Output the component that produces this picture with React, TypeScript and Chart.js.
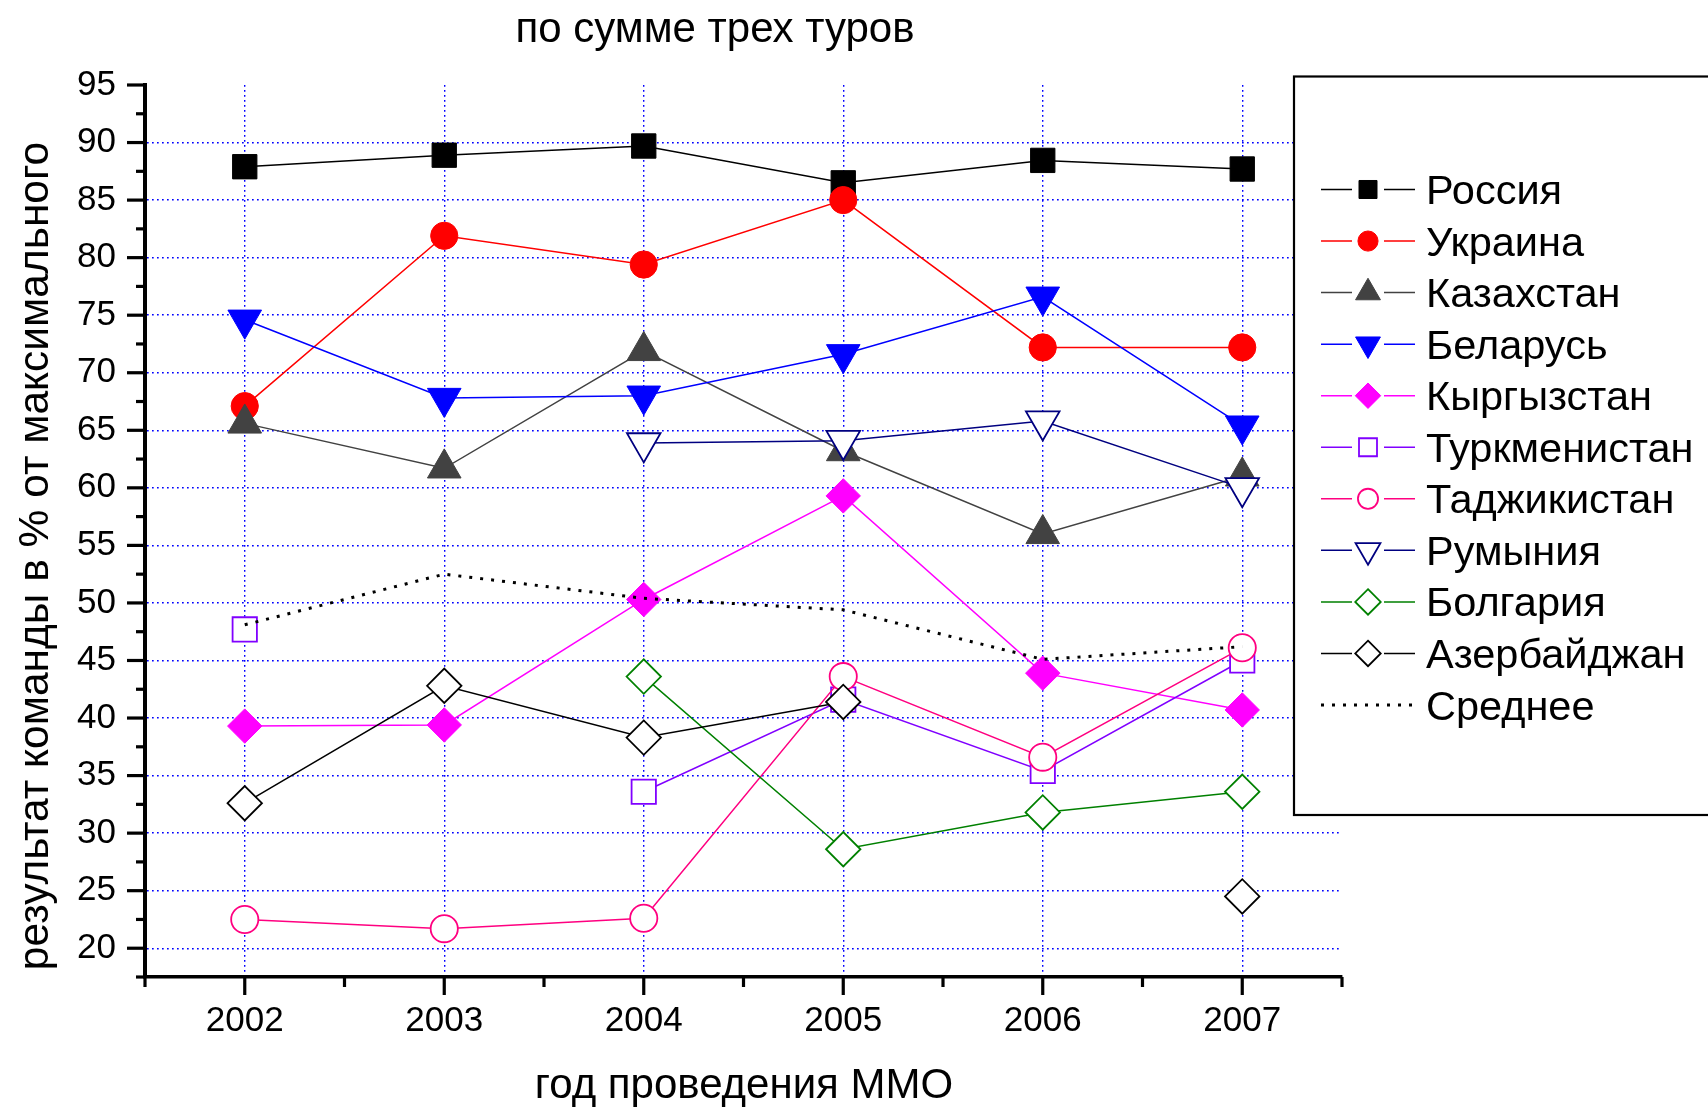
import React, { useEffect, useRef } from 'react';
import { Chart, registerables } from 'chart.js';

Chart.register(...registerables);

// ---- data ----
const YEARS = ['2002', '2003', '2004', '2005', '2006', '2007'];

const RUSSIA = [87.9, 88.9, 89.7, 86.5, 88.45, 87.7];
const UKRAINE = [67.1, 81.9, 79.4, 85.0, 72.2, 72.2];
const KAZAKHSTAN = [65.6, 61.7, 71.9, 63.2, 56.0, 61.0];
const BELARUS = [74.6, 67.8, 68.0, 71.6, 76.6, 65.4];
const KYRGYZSTAN = [39.3, 39.4, 50.3, 59.3, 43.9, 40.7];
const TURKMENISTAN = [47.7, null, 33.6, 41.6, 35.4, 45.0];
const TAJIKISTAN = [22.5, 21.7, 22.6, 43.6, 36.6, 46.1];
const ROMANIA = [null, null, 63.9, 64.1, 65.8, 60.0];
const BULGARIA = [null, null, 43.6, 28.6, 31.8, 33.6];
const AZERBAIJAN = [32.6, 42.8, 38.3, 41.4, null, 24.5];
const AVERAGE = [48.1, 52.5, 50.4, 49.4, 45.1, 46.2];

const Y_MIN = 17.5;
const Y_MAX = 95;
const Y_STEP = 5;
const Y_MINOR = 2.5;

const TITLE = 'по сумме трех туров';
const X_TITLE = 'год проведения ММО';
const Y_TITLE = 'результат команды в % от максимального';

const FONT = '"Liberation Sans", Arial, Helvetica, sans-serif';

type Marker = 'rect' | 'circle' | 'triangle' | 'triangleDown' | 'rectRot' | 'none';

interface SeriesDef {
  label: string;
  data: (number | null)[];
  color: string;
  marker: Marker;
  filled: boolean;
  dotted?: boolean;
}

const SERIES: SeriesDef[] = [
  { label: 'Россия', data: RUSSIA, color: '#000000', marker: 'rect', filled: true },
  { label: 'Украина', data: UKRAINE, color: '#ff0000', marker: 'circle', filled: true },
  { label: 'Казахстан', data: KAZAKHSTAN, color: '#424242', marker: 'triangle', filled: true },
  { label: 'Беларусь', data: BELARUS, color: '#0000ff', marker: 'triangleDown', filled: true },
  { label: 'Кыргызстан', data: KYRGYZSTAN, color: '#ff00ff', marker: 'rectRot', filled: true },
  { label: 'Туркменистан', data: TURKMENISTAN, color: '#8000ff', marker: 'rect', filled: false },
  { label: 'Таджикистан', data: TAJIKISTAN, color: '#ff0080', marker: 'circle', filled: false },
  { label: 'Румыния', data: ROMANIA, color: '#000080', marker: 'triangleDown', filled: false },
  { label: 'Болгария', data: BULGARIA, color: '#008000', marker: 'rectRot', filled: false },
  { label: 'Азербайджан', data: AZERBAIJAN, color: '#000000', marker: 'rectRot', filled: false },
  { label: 'Среднее', data: AVERAGE, color: '#000000', marker: 'none', filled: false, dotted: true },
];

// marker radii in the plot (Chart.js point radius semantics)
const RADIUS: Record<Marker, number> = {
  rect: 17.2,
  circle: 13.6,
  triangle: 19.4,
  triangleDown: 19.4,
  rectRot: 17.2,
  none: 0,
};

const LEGEND_SCALE = 0.74;

// canvas / plot geometry
const W = 1708;
const H = 1107;
const AREA = { left: 145, right: 1342, top: 85, bottom: 977 };

function shapePath(ctx: CanvasRenderingContext2D, marker: Marker, x: number, y: number, r: number) {
  ctx.beginPath();
  if (marker === 'rect') {
    const s = Math.SQRT1_2 * r;
    ctx.rect(x - s, y - s, 2 * s, 2 * s);
  } else if (marker === 'circle') {
    ctx.arc(x, y, r, 0, Math.PI * 2);
  } else if (marker === 'triangle' || marker === 'triangleDown') {
    const sgn = marker === 'triangle' ? 1 : -1;
    const hw = (r * Math.sqrt(3)) / 2;
    ctx.moveTo(x, y - sgn * r);
    ctx.lineTo(x + hw, y + (sgn * r) / 2);
    ctx.lineTo(x - hw, y + (sgn * r) / 2);
  } else if (marker === 'rectRot') {
    ctx.moveTo(x, y - r);
    ctx.lineTo(x + r, y);
    ctx.lineTo(x, y + r);
    ctx.lineTo(x - r, y);
  }
  ctx.closePath();
}

const decorPlugin = {
  id: 'decor',
  afterDraw(chart: any) {
    const ctx: CanvasRenderingContext2D = chart.ctx;
    const xs = chart.scales.x;
    const ys = chart.scales.y;
    const area = chart.chartArea;
    ctx.save();

    // axis tick marks (major + minor)
    ctx.strokeStyle = '#000';
    ctx.lineWidth = 3.2;
    ctx.lineCap = 'butt';
    for (let i = 0; i <= YEARS.length * 2; i++) {
      const v = -0.5 + i * 0.5;
      const px = xs.getPixelForValue(v);
      const major = i % 2 === 1;
      ctx.beginPath();
      ctx.moveTo(px, area.bottom);
      ctx.lineTo(px, area.bottom + (major ? 18 : 10));
      ctx.stroke();
    }
    for (let v = Y_MIN; v <= Y_MAX + 1e-6; v += Y_MINOR) {
      const py = ys.getPixelForValue(v);
      const major = Math.abs(v % Y_STEP) < 1e-6;
      ctx.beginPath();
      ctx.moveTo(area.left - (major ? 18 : 9), py);
      ctx.lineTo(area.left, py);
      ctx.stroke();
    }

    // titles
    ctx.fillStyle = '#000';
    ctx.textBaseline = 'alphabetic';
    ctx.textAlign = 'center';
    ctx.font = `42px ${FONT}`;
    ctx.fillText(TITLE, 715, 42);
    ctx.fillText(X_TITLE, 744, 1098);
    ctx.save();
    ctx.translate(48, 556);
    ctx.rotate(-Math.PI / 2);
    ctx.font = `42.5px ${FONT}`;
    ctx.fillText(Y_TITLE, 0, 0);
    ctx.restore();

    // legend box
    const box = { left: 1294, top: 76.5, right: W + 10, bottom: 815 };
    ctx.fillStyle = '#fff';
    ctx.fillRect(box.left, box.top, box.right - box.left, box.bottom - box.top);
    ctx.strokeStyle = '#000';
    ctx.lineWidth = 2.2;
    ctx.strokeRect(box.left, box.top, box.right - box.left, box.bottom - box.top);

    const rowY0 = 189.5;
    const rowStep = 51.55;
    const mx = 1368;
    chart.data.datasets.forEach((ds: any, i: number) => {
      const def = SERIES[i];
      const cy = rowY0 + i * rowStep;
      ctx.strokeStyle = def.color;
      ctx.lineWidth = ds.borderWidth;
      if (def.dotted) {
        ctx.setLineDash(ds.borderDash);
        ctx.beginPath();
        ctx.moveTo(1321, cy);
        ctx.lineTo(1416, cy);
        ctx.stroke();
        ctx.setLineDash([]);
      } else {
        ctx.beginPath();
        ctx.moveTo(1321, cy);
        ctx.lineTo(1352, cy);
        ctx.moveTo(1384, cy);
        ctx.lineTo(1415, cy);
        ctx.stroke();
        const r = RADIUS[def.marker] * LEGEND_SCALE;
        shapePath(ctx, def.marker, mx, cy, r);
        ctx.fillStyle = def.filled ? def.color : '#fff';
        ctx.fill();
        ctx.lineWidth = def.filled ? 1 : 1.8;
        ctx.stroke();
      }
      ctx.fillStyle = '#000';
      ctx.textAlign = 'left';
      ctx.font = `41.5px ${FONT}`;
      ctx.fillText(def.label, 1426, cy + 14.5);
    });

    ctx.restore();
  },
};

export default function App() {
  const canvasRef = useRef<HTMLCanvasElement | null>(null);

  useEffect(() => {
    const canvas = canvasRef.current;
    if (!canvas) return;
    Chart.defaults.font.family = FONT;

    const n = SERIES.length;
    const datasets = SERIES.map((s, i) => ({
      label: s.label,
      data: s.data,
      borderColor: s.color,
      backgroundColor: s.filled ? s.color : '#ffffff',
      pointBackgroundColor: s.filled ? s.color : '#ffffff',
      pointBorderColor: s.color,
      pointStyle: s.marker === 'triangleDown' ? 'triangle' : s.marker === 'none' ? 'circle' : s.marker,
      pointRotation: s.marker === 'triangleDown' ? 180 : 0,
      pointRadius: RADIUS[s.marker],
      pointHoverRadius: RADIUS[s.marker],
      pointBorderWidth: s.filled ? 1 : 1.8,
      borderWidth: s.dotted ? 3 : 1.5,
      borderDash: s.dotted ? [3, 8] : [],
      spanGaps: false,
      tension: 0,
      fill: false,
      order: n - i,
    }));

    const chart = new Chart(canvas, {
      type: 'line',
      data: { labels: YEARS, datasets },
      plugins: [decorPlugin],
      options: {
        responsive: false,
        animation: false,
        events: [],
        layout: {
          padding: { left: 0, top: AREA.top, right: W - AREA.right, bottom: 0 },
        },
        plugins: {
          legend: { display: false },
          title: { display: false },
          tooltip: { enabled: false },
        },
        scales: {
          x: {
            type: 'category',
            offset: true,
            position: 'bottom',
            afterFit: (scale: any) => {
              scale.height = H - AREA.bottom;
            },
            grid: {
              display: true,
              offset: false,
              drawTicks: false,
              color: '#0000ff',
              lineWidth: 1.4,
            },
            border: { display: true, color: '#000', width: 3.4, dash: [1.7, 3.3] },
            ticks: {
              color: '#000',
              font: { size: 35, family: FONT },
              padding: 23,
              maxRotation: 0,
              autoSkip: false,
            },
          },
          y: {
            type: 'linear',
            min: Y_MIN,
            max: Y_MAX,
            afterFit: (scale: any) => {
              scale.width = AREA.left;
            },
            grid: {
              display: true,
              drawTicks: false,
              color: (c: any) =>
                c.tick && (c.tick.value >= Y_MAX - 1e-6 || c.tick.value <= Y_MIN + 1e-6)
                  ? 'rgba(0,0,0,0)'
                  : '#0000ff',
              lineWidth: 1.4,
            },
            border: { display: true, color: '#000', width: 4, dash: [1.7, 3.3] },
            ticks: {
              stepSize: Y_STEP,
              includeBounds: false,
              color: '#000',
              font: { size: 35, family: FONT },
              padding: 29,
              callback: (v: any) => (Math.abs(Number(v) % Y_STEP) < 1e-6 ? String(v) : ''),
            },
          },
        },
      },
    } as any);

    return () => chart.destroy();
  }, []);

  return (
    <div style={{ position: 'fixed', left: 0, top: 0, width: W, height: H, background: '#fff' }}>
      <canvas ref={canvasRef} width={W} height={H} style={{ width: W, height: H, display: 'block' }} />
    </div>
  );
}
